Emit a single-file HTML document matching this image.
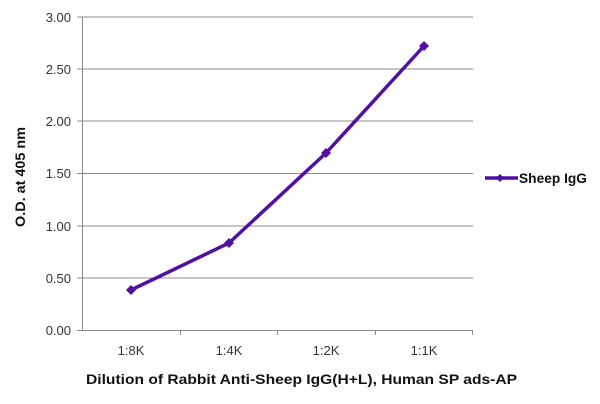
<!DOCTYPE html>
<html><head><style>body{margin:0;background:#fff}svg{display:block}</style></head><body>
<svg width="600" height="404" xmlns="http://www.w3.org/2000/svg" font-family="Liberation Sans, sans-serif">
<g stroke="#8c8c8c" stroke-width="1">
<line x1="82" y1="17" x2="473" y2="17"/><line x1="82" y1="69" x2="473" y2="69"/>
<line x1="82" y1="121" x2="473" y2="121"/><line x1="82" y1="173.5" x2="473" y2="173.5"/>
<line x1="82" y1="226" x2="473" y2="226"/><line x1="82" y1="278" x2="473" y2="278"/>
<line x1="82" y1="330.5" x2="473" y2="330.5"/>
<line x1="82.5" y1="17" x2="82.5" y2="331"/>
<line x1="77" y1="17" x2="82" y2="17"/><line x1="77" y1="69" x2="82" y2="69"/><line x1="77" y1="121" x2="82" y2="121"/><line x1="77" y1="173.5" x2="82" y2="173.5"/><line x1="77" y1="226" x2="82" y2="226"/><line x1="77" y1="278" x2="82" y2="278"/><line x1="77" y1="330.5" x2="82" y2="330.5"/>
<line x1="180.5" y1="330" x2="180.5" y2="335"/><line x1="277.5" y1="330" x2="277.5" y2="335"/><line x1="375.5" y1="330" x2="375.5" y2="335"/><line x1="472.5" y1="330" x2="472.5" y2="335"/>
</g>
<g font-size="13" fill="#333" text-anchor="end">
<text x="71" y="22">3.00</text><text x="71" y="74">2.50</text><text x="71" y="126">2.00</text><text x="71" y="178">1.50</text><text x="71" y="231">1.00</text><text x="71" y="283">0.50</text><text x="71" y="335">0.00</text>
</g>
<g font-size="13" fill="#333" text-anchor="middle">
<text x="131" y="355">1:8K</text><text x="229" y="355">1:4K</text><text x="326" y="355">1:2K</text><text x="424" y="355">1:1K</text>
</g>
<text x="86" y="384" font-size="14" font-weight="bold" fill="#111" textLength="431" lengthAdjust="spacingAndGlyphs">Dilution of Rabbit Anti-Sheep IgG(H+L), Human SP ads-AP</text>
<text transform="translate(25,227) rotate(-90)" font-size="14" font-weight="bold" fill="#111" textLength="100" lengthAdjust="spacingAndGlyphs">O.D. at 405 nm</text>
<polyline points="131,290 229,243 326,153 424,46" fill="none" stroke="#5010a4" stroke-width="3.5" stroke-linejoin="round"/>
<g fill="#5010a4">
<path d="M131,285 l5,5 l-5,5 l-5,-5z"/><path d="M229,238 l5,5 l-5,5 l-5,-5z"/><path d="M326,148 l5,5 l-5,5 l-5,-5z"/><path d="M424,41 l5,5 l-5,5 l-5,-5z"/>
<path d="M500,174 l4,4 l-4,4 l-4,-4z"/>
</g>
<line x1="485" y1="178" x2="518" y2="178" stroke="#5010a4" stroke-width="3.5"/>
<text x="519" y="183" font-size="14" font-weight="bold" fill="#111" textLength="68" lengthAdjust="spacingAndGlyphs">Sheep IgG</text>
</svg>
</body></html>
